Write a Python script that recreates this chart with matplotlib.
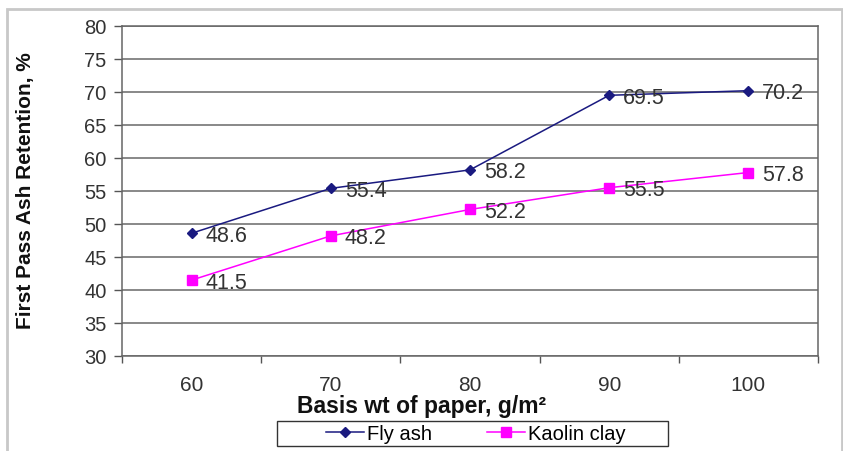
import matplotlib
matplotlib.use("Agg")
import matplotlib.pyplot as plt
from matplotlib.patches import Rectangle
import numpy as np

categories = ["60", "70", "80", "90", "100"]
fly_ash = [48.6, 55.4, 58.2, 69.5, 70.2]
kaolin = [41.5, 48.2, 52.2, 55.5, 57.8]
yticks = [30, 35, 40, 45, 50, 55, 60, 65, 70, 75, 80]

plt.rcParams['font.family'] = ['Liberation Sans', 'DejaVu Sans']

W, H = 843, 452
fig = plt.figure(figsize=(W/100, H/100), dpi=100)
fig.patch.set_facecolor('white')

# outer border
fig.patches.append(Rectangle((7/W, -0.05), (842-7)/W, 1.05 - 10/H, transform=fig.transFigure,
                             fill=False, edgecolor='#c8c8c8', linewidth=2))

ax = fig.add_axes([122/W, 1-357/H, (818-122)/W, (357-27)/H])
x = np.arange(len(categories))

ax.plot(x, fly_ash, color='#1a1a80', marker='D', markersize=5, linewidth=1.1, label='Fly ash')
ax.plot(x, kaolin, color='#ff00ff', marker='s', markersize=7, linewidth=1.1, label='Kaolin clay')

for xi, v in zip(x, fly_ash):
    ax.annotate(f"{v:.1f}", (xi, v), xytext=(10, -1.5), textcoords='offset points',
                va='center', ha='left', fontsize=15.5, color='#333333')
for xi, v in zip(x, kaolin):
    ax.annotate(f"{v:.1f}", (xi, v), xytext=(10, -1.5), textcoords='offset points',
                va='center', ha='left', fontsize=15.5, color='#333333')

ax.set_xlim(-0.5, len(categories) - 0.5)
ax.set_ylim(30, 80)
ax.set_yticks(yticks)
ax.tick_params(axis='y', labelsize=14.5, length=6, width=1, color='#555555', pad=5, labelcolor='#333333')
ax.yaxis.grid(True, color='#7f7f7f', linewidth=1.3)
ax.set_axisbelow(True)

ax.set_xticks(x)
ax.set_xticklabels(categories)
ax.tick_params(axis='x', which='major', length=0, labelsize=15, pad=14, labelcolor='#333333')
ax.set_xticks(np.arange(-0.5, len(categories)), minor=True)
ax.tick_params(axis='x', which='minor', length=5, width=1, color='#555555', direction='out')

for s in ax.spines.values():
    s.set_color('#666666')
    s.set_linewidth(1.1)

fig.text(422/W, 1-413/H, "Basis wt of paper, g/m²", ha='center', va='baseline',
         fontsize=16.5, fontweight='bold', color='#111111')
fig.text(26/W, 1-191/H, "First Pass Ash Retention, %", ha='center', va='center',
         rotation=90, fontsize=15, fontweight='bold', color='#111111')

# legend box
fig.patches.append(Rectangle((277/W, 1-447/H), (668-277)/W, 25/H, transform=fig.transFigure,
                             fill=False, edgecolor='#333333', linewidth=1))
leg = fig.legend(loc='center', bbox_to_anchor=(476/W, 1-435/H), ncol=2,
                 frameon=False, fontsize=14.5, borderpad=0, borderaxespad=0,
                 handlelength=1.9, columnspacing=2.7, handletextpad=0.15)

fig.savefig("out.png", dpi=100)
